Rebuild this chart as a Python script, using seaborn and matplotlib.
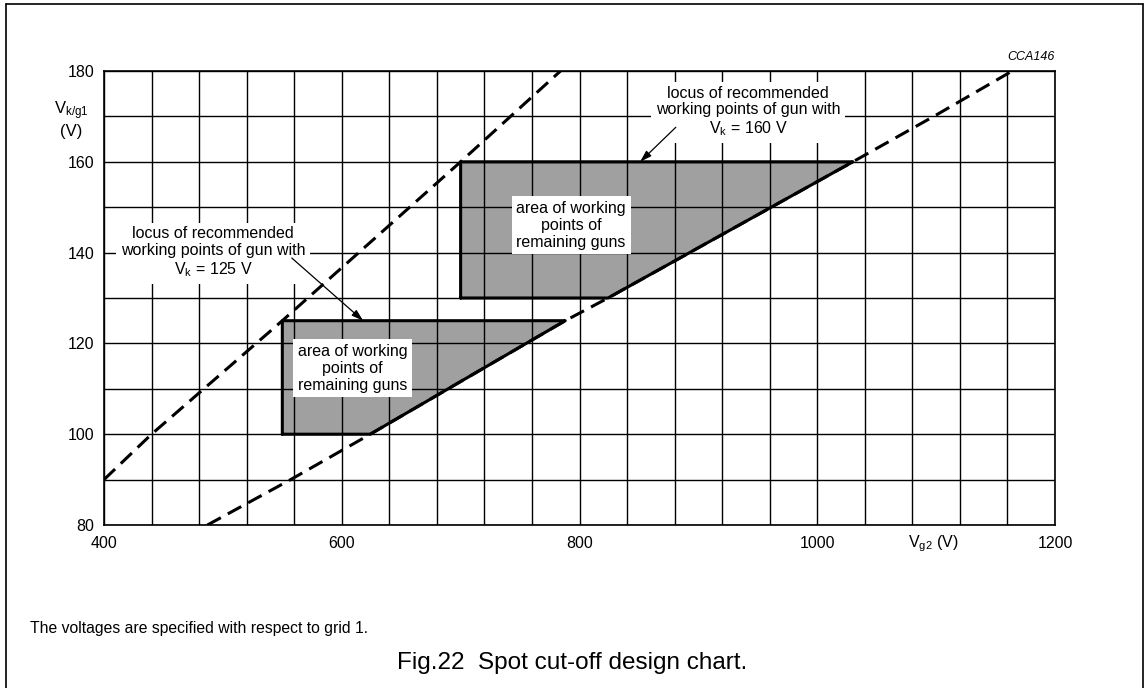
import numpy as np
import pandas as pd
import matplotlib
matplotlib.use("Agg")
import matplotlib.pyplot as plt
import seaborn as sns
from matplotlib.lines import Line2D
from matplotlib.transforms import blended_transform_factory

# Axis ticks (labelled)
vg2_ticks = [400, 600, 800, 1000, 1200]
vk_ticks = [80, 100, 120, 140, 160, 180]

# Upper cut-off limit (steep dashed line)
upper_vg2 = [400, 440, 550, 700, 784]
upper_vk = [90, 100, 125, 160, 180]

# Lower cut-off limit (shallow line)
lower_vg2 = [487, 557, 624, 700, 788, 824, 1030, 1100, 1164]
lower_vk = [80, 90, 100, 111.6, 125, 130, 160, 170.3, 180]

# Working-point areas of the remaining guns
area_vg2_left = [550, 700]
area_vk_low = [100, 130]
area_vk_high = [125, 160]
area_text = "area of working\npoints of\nremaining guns"
area_label_pos = [(609, 114.5), (793, 146)]

# Loci of recommended working points
locus_gun_vk = [125, 160]
locus_text_pos = [(492, 140), (942, 171)]
locus_arrow_tail = [(558, 138.8), (881, 167.6)]
locus_arrow_head = [(618, 125), (851, 160)]

sns.set_style("white")
plt.rcParams["font.family"] = ["Liberation Sans", "DejaVu Sans"]
plt.rcParams["mathtext.default"] = "regular"
plt.rcParams["text.color"] = "black"
plt.rcParams["axes.labelcolor"] = "black"
plt.rcParams["xtick.color"] = "black"
plt.rcParams["ytick.color"] = "black"

W, H = 1145, 688
fig = plt.figure(figsize=(W / 100, H / 100), dpi=100)
ax = fig.add_axes([104 / W, 1 - 525 / H, 951 / W, 454 / H])

dash = (0, (5, 2.6))
LW = 2.2

# steep limit line
sns.lineplot(x=upper_vg2, y=upper_vk, ax=ax, color="black", lw=LW,
             linestyle=dash, sort=False, estimator=None, zorder=3)
# shallow limit line
sns.lineplot(x=lower_vg2, y=lower_vk, ax=ax, color="black", lw=LW,
             linestyle=dash, sort=False, estimator=None, zorder=3)

# shaded areas bounded by the shallow limit line
for xl, lo, hi in zip(area_vg2_left, area_vk_low, area_vk_high):
    vk = np.linspace(lo, hi, 60)
    xr = np.interp(vk, lower_vk, lower_vg2)
    ax.fill_betweenx(vk, xl, xr, facecolor="#a0a0a0", edgecolor="none", zorder=1)
    ox = np.concatenate([[xl, xl], xr[::-1], [xl]])
    oy = np.concatenate([[lo, hi], vk[::-1], [lo]])
    sns.lineplot(x=ox, y=oy, ax=ax, color="black", lw=LW, sort=False,
                 estimator=None, zorder=4)

for (tx, ty) in area_label_pos:
    ax.text(tx, ty, area_text, ha="center", va="center", fontsize=11.5,
            linespacing=1.15, zorder=6, color="black",
            bbox=dict(boxstyle="square,pad=0.3", fc="white", ec="none"))

for vk, (tx, ty), tail, head in zip(locus_gun_vk, locus_text_pos,
                                    locus_arrow_tail, locus_arrow_head):
    ax.text(tx, ty,
            "locus of recommended\nworking points of gun with\n"
            f"V$_{{k}}$ = {vk} V",
            ha="center", va="center", fontsize=11.5, linespacing=1.15,
            zorder=6, color="black",
            bbox=dict(boxstyle="square,pad=0.3", fc="white", ec="none"))
    ax.annotate("", xy=head, xytext=tail, zorder=7,
                arrowprops=dict(arrowstyle="-|>,head_length=0.7,head_width=0.22",
                                color="black", lw=0.9, shrinkA=0, shrinkB=0))

ax.set_xlim(400, 1200)
ax.set_ylim(80, 180)
ax.set_xticks(vg2_ticks)
ax.set_xticks(np.arange(400, 1201, 40), minor=True)
ax.set_yticks(vk_ticks)
ax.set_yticks(np.arange(80, 181, 10), minor=True)
ax.set_xticklabels([str(v) for v in vg2_ticks])
ax.set_yticklabels([str(v) for v in vk_ticks])
ax.grid(which="both", color="black", lw=1.0)
ax.set_axisbelow(False)
ax.tick_params(which="both", length=0, labelsize=11.5, colors="black",
               labelcolor="black")
ax.tick_params(axis="x", pad=8)
ax.tick_params(axis="y", pad=7)
for s in ax.spines.values():
    s.set_visible(True)
    s.set_color("black")
    s.set_linewidth(1.2)
ax.set_xlabel("")
ax.set_ylabel("")

# axis titles
ax.text(-0.034, 0.894, "V$_{k/g1}$\n(V)", transform=ax.transAxes,
        ha="center", va="center", fontsize=12, linespacing=1.15, color="black")
tr = blended_transform_factory(ax.transData, ax.transAxes)
ax.text(1098, -0.0485, "V$_{g2}$ (V)", transform=tr, ha="center",
        va="baseline", fontsize=11.5, color="black")
ax.text(1.0, 1.031, "CCA146", transform=ax.transAxes, ha="right",
        va="center", fontsize=9, style="italic", color="black")

# notes below the chart
fig.text(30 / W, 1 - 628 / H, "The voltages are specified with respect to grid 1.",
         ha="left", va="center", fontsize=11.3, color="black")
fig.text(572 / W, 1 - 663 / H, "Fig.22  Spot cut-off design chart.",
         ha="center", va="center", fontsize=17.5, color="black")

# page frame
for xs, ys in [([5.5, 5.5], [0, 684]), ([5.5, 1143], [684, 684]),
               ([1143, 1143], [684, 0])]:
    fig.add_artist(Line2D([x / W for x in xs], [y / H for y in ys],
                          transform=fig.transFigure, color="black", lw=1.2))

fig.savefig("out.png", dpi=100)
